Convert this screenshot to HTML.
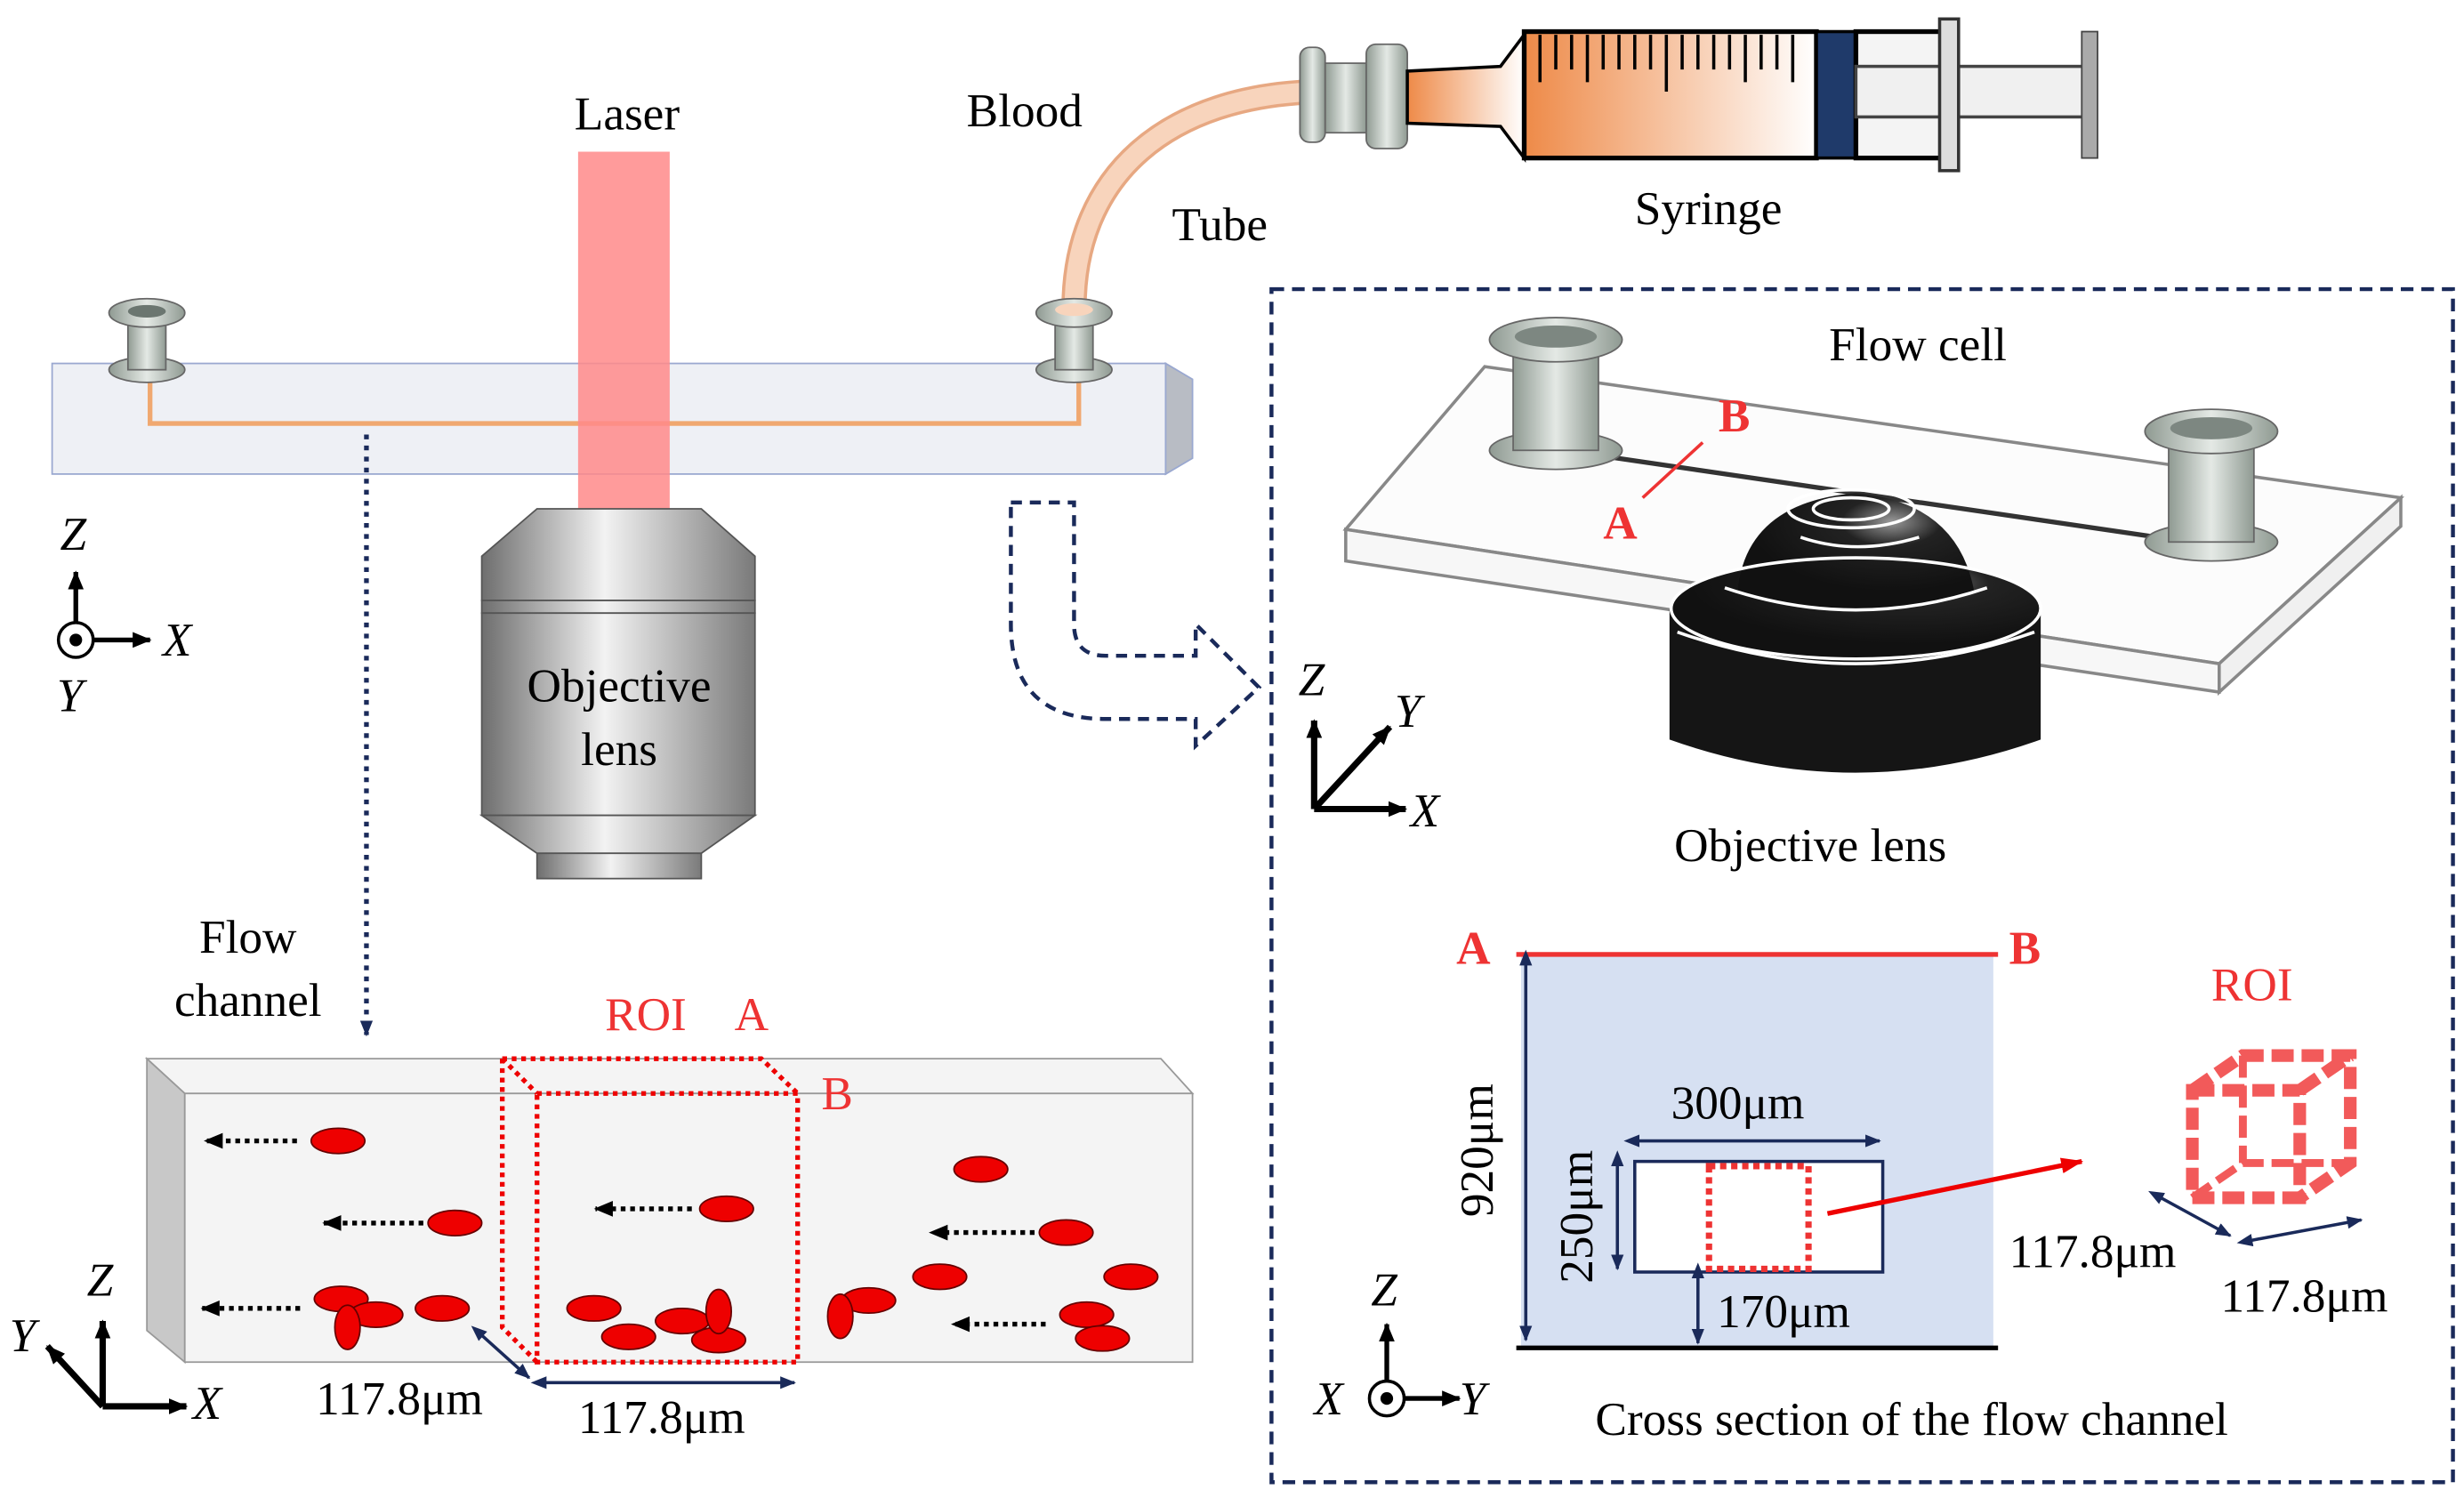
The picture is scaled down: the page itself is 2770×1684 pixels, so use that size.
<!DOCTYPE html>
<html><head><meta charset="utf-8"><style>html,body{margin:0;padding:0;background:#fff}svg{display:block}text{font-family:"Liberation Serif",serif}</style></head><body>
<svg width="2770" height="1684" viewBox="0 0 1560 948" preserveAspectRatio="none" xmlns="http://www.w3.org/2000/svg">
<defs>
<linearGradient id="g" x1="0" x2="1"><stop offset="0" stop-color="#6e6e6e"/><stop offset="0.45" stop-color="#f2f2f2"/><stop offset="1" stop-color="#7a7a7a"/></linearGradient>
<linearGradient id="or" x1="0" x2="1"><stop offset="0" stop-color="#ee8a48"/><stop offset="1" stop-color="#fff"/></linearGradient>
<linearGradient id="cy" x1="0" x2="1"><stop offset="0" stop-color="#8f9a92"/><stop offset="0.5" stop-color="#e4e9e5"/><stop offset="1" stop-color="#8f9a92"/></linearGradient>
<radialGradient id="bl" cx="0.65" cy="0.25" r="0.6"><stop offset="0" stop-color="#999"/><stop offset="0.35" stop-color="#222"/><stop offset="1" stop-color="#111"/></radialGradient>
<marker id="ah" markerUnits="userSpaceOnUse" markerWidth="12" markerHeight="10" refX="11" refY="5" orient="auto"><path d="M0,0 L12,5 L0,10 z" fill="#000"/></marker>
<marker id="an" markerUnits="userSpaceOnUse" markerWidth="10" markerHeight="8" refX="9" refY="4" orient="auto"><path d="M0,0 L10,4 L0,8 z" fill="#1a2a5a"/></marker>
<marker id="ar" markerUnits="userSpaceOnUse" markerWidth="14" markerHeight="10" refX="13" refY="5" orient="auto"><path d="M0,0 L14,5 L0,10 z" fill="#e00"/></marker>
<marker id="ab" markerUnits="userSpaceOnUse" markerWidth="10" markerHeight="8" refX="1" refY="4" orient="auto-start-reverse"><path d="M0,0 L10,4 L0,8 z" fill="#1a2a5a"/></marker>
</defs>
<g font-size="30">
<text x="397" y="82" text-anchor="middle">Laser</text>
<text x="612" y="80">Blood</text>
<text x="742" y="152">Tube</text>
<text x="1035" y="142">Syringe</text>
<!-- tube -->
<path d="M680,195 C680,110 740,60 835,58" stroke="#e7a882" stroke-width="16" fill="none"/>
<path d="M680,195 C680,110 740,60 835,58" stroke="#f8d4bc" stroke-width="12" fill="none"/>
<!-- syringe -->
<rect x="823" y="30" width="16" height="60" rx="6" fill="url(#cy)" stroke="#666"/>
<rect x="839" y="40" width="26" height="44" fill="url(#cy)" stroke="#666"/>
<rect x="865" y="28" width="26" height="66" rx="6" fill="url(#cy)" stroke="#666"/>
<path d="M891,45 L950,42 L965,22 L965,100 L950,80 L891,78 z" fill="url(#or)" stroke="#000" stroke-width="2"/>
<rect x="965" y="20" width="185" height="80" fill="url(#or)" stroke="#000" stroke-width="3"/>
<g stroke="#000" stroke-width="2">
<path d="M975,22v30M985,22v22M995,22v22M1005,22v30M1015,22v22M1025,22v22M1035,22v22M1045,22v22M1055,22v36M1065,22v22M1075,22v22M1085,22v22M1095,22v22M1105,22v30M1115,22v22M1125,22v22M1135,22v30"/>
</g>
<rect x="1150" y="20" width="25" height="80" fill="#1f3a6a" stroke="#000" stroke-width="2"/>
<rect x="1175" y="20" width="55" height="80" fill="#f4f4f4" stroke="#000" stroke-width="3"/>
<rect x="1175" y="42" width="145" height="32" fill="#f0f0f0" stroke="#444" stroke-width="2"/>
<rect x="1228" y="12" width="12" height="96" fill="#ddd" stroke="#333" stroke-width="2"/>
<rect x="1318" y="20" width="10" height="80" fill="#aaa" stroke="#444"/>
<!-- flow cell slab -->
<rect x="33" y="230" width="705" height="70" fill="#eef0f5" stroke="#9aa8d0"/>
<polygon points="738,230 755,240 755,290 738,300" fill="#b8bcc4" stroke="#9aa8d0"/>
<path d="M95,240 V268 H683 V240" stroke="#f0a870" stroke-width="3" fill="none"/>
<rect x="366" y="96" width="58" height="228" fill="#ff8a8a" opacity="0.85"/>
<g>
<ellipse cx="93" cy="234" rx="24" ry="8" fill="url(#cy)" stroke="#666"/>
<rect x="81" y="205" width="24" height="29" fill="url(#cy)" stroke="#666"/>
<ellipse cx="93" cy="198" rx="24" ry="9" fill="url(#cy)" stroke="#666"/>
<ellipse cx="93" cy="197" rx="12" ry="4" fill="#6b7670"/>
<ellipse cx="680" cy="234" rx="24" ry="8" fill="url(#cy)" stroke="#666"/>
<rect x="668" y="205" width="24" height="29" fill="url(#cy)" stroke="#666"/>
<ellipse cx="680" cy="198" rx="24" ry="9" fill="url(#cy)" stroke="#666"/>
<ellipse cx="680" cy="196" rx="12" ry="4" fill="#f8d4bc"/>
</g>
<!-- objective -->
<path d="M340,322 H444 L478,352 V380 H305 V352 z" fill="url(#g)" stroke="#555"/>
<rect x="305" y="380" width="173" height="8" fill="url(#g)" stroke="#555"/>
<rect x="305" y="388" width="173" height="128" fill="url(#g)" stroke="#555"/>
<path d="M305,516 H478 L444,540 H340 z" fill="url(#g)" stroke="#555"/>
<rect x="340" y="540" width="104" height="16" fill="url(#g)" stroke="#555"/>
<text x="392" y="444" text-anchor="middle">Objective</text>
<text x="392" y="484" text-anchor="middle">lens</text>
<!-- left axes -->
<text x="38" y="348" font-style="italic">Z</text>
<line x1="48" y1="405" x2="48" y2="362" stroke="#000" stroke-width="3" marker-end="url(#ah)"/>
<line x1="48" y1="405" x2="95" y2="405" stroke="#000" stroke-width="3" marker-end="url(#ah)"/>
<circle cx="48" cy="405" r="11" fill="#fff" stroke="#000" stroke-width="2"/><circle cx="48" cy="405" r="4"/>
<text x="103" y="415" font-style="italic">X</text>
<text x="36" y="450" font-style="italic">Y</text>
<!-- dotted arrow -->
<line x1="232" y1="275" x2="232" y2="655" stroke="#1a2a5a" stroke-width="3" stroke-dasharray="3,4" marker-end="url(#an)"/>
<text x="157" y="603" text-anchor="middle">Flow</text>
<text x="157" y="643" text-anchor="middle">channel</text>
<!-- dashed curved arrow -->
<path d="M640,318 H680 V395 Q680,415 700,415 H757 V395 L797,435 L757,472 V455 H700 Q640,455 640,395 z" fill="none" stroke="#1a2a5a" stroke-width="2.5" stroke-dasharray="7,5"/>
<!-- bottom channel -->
<polygon points="93,670 735,670 755,692 117,692" fill="#f4f4f4" stroke="#999"/>
<polygon points="93,670 117,692 117,862 93,842" fill="#c8c8c8" stroke="#999"/>
<rect x="117" y="692" width="638" height="170" fill="#f4f4f4" stroke="#999"/>
<g fill="none" stroke="#e00" stroke-width="3" stroke-dasharray="3,3">
<rect x="340" y="692" width="165" height="170"/>
<path d="M318,670 H482 L505,692 M318,670 L340,692 M318,670 V840 L340,862"/>
</g>
<text x="383" y="652" fill="#e33">ROI</text>
<text x="465" y="652" fill="#e33">A</text>
<text x="520" y="702" fill="#e33">B</text>
<g fill="#e00" stroke="#600" stroke-width="1">
<ellipse cx="214" cy="722" rx="17" ry="8"/><ellipse cx="288" cy="774" rx="17" ry="8"/><ellipse cx="460" cy="765" rx="17" ry="8"/>
<ellipse cx="621" cy="740" rx="17" ry="8"/><ellipse cx="675" cy="780" rx="17" ry="8"/><ellipse cx="716" cy="808" rx="17" ry="8"/>
<ellipse cx="595" cy="808" rx="17" ry="8"/><ellipse cx="688" cy="832" rx="17" ry="8"/><ellipse cx="698" cy="847" rx="17" ry="8"/>
<ellipse cx="216" cy="822" rx="17" ry="8"/><ellipse cx="238" cy="832" rx="17" ry="8"/><ellipse cx="220" cy="840" rx="8" ry="14"/>
<ellipse cx="280" cy="828" rx="17" ry="8"/><ellipse cx="376" cy="828" rx="17" ry="8"/><ellipse cx="398" cy="846" rx="17" ry="8"/>
<ellipse cx="432" cy="836" rx="17" ry="8"/><ellipse cx="455" cy="848" rx="17" ry="8"/><ellipse cx="455" cy="830" rx="8" ry="14"/>
<ellipse cx="550" cy="823" rx="17" ry="8"/><ellipse cx="532" cy="833" rx="8" ry="14"/>
</g>
<g stroke="#000" stroke-width="3" stroke-dasharray="3,3">
<line x1="188" y1="722" x2="130" y2="722" marker-end="url(#ah)"/>
<line x1="268" y1="774" x2="205" y2="774" marker-end="url(#ah)"/>
<line x1="438" y1="765" x2="377" y2="765" marker-end="url(#ah)"/>
<line x1="655" y1="780" x2="589" y2="780" marker-end="url(#ah)"/>
<line x1="190" y1="828" x2="128" y2="828" marker-end="url(#ah)"/>
<line x1="662" y1="838" x2="603" y2="838" marker-end="url(#ah)"/>
</g>
<line x1="305" y1="845" x2="335" y2="872" stroke="#1a2a5a" stroke-width="2" marker-start="url(#ab)" marker-end="url(#an)"/>
<line x1="345" y1="875" x2="503" y2="875" stroke="#1a2a5a" stroke-width="2" marker-start="url(#ab)" marker-end="url(#an)"/>
<text x="200" y="895">117.8μm</text>
<text x="366" y="907">117.8μm</text>
<!-- bottom-left axes -->
<line x1="65" y1="890" x2="65" y2="836" stroke="#000" stroke-width="4" marker-end="url(#ah)"/>
<line x1="65" y1="890" x2="118" y2="890" stroke="#000" stroke-width="4" marker-end="url(#ah)"/>
<line x1="65" y1="890" x2="30" y2="852" stroke="#000" stroke-width="4" marker-end="url(#ah)"/>
<text x="55" y="820" font-style="italic">Z</text><text x="122" y="898" font-style="italic">X</text><text x="6" y="855" font-style="italic">Y</text>
<!-- right dashed box -->
<rect x="805" y="183" width="748" height="755" fill="none" stroke="#1a2a5a" stroke-width="2.5" stroke-dasharray="8,5"/>
<text x="1158" y="228">Flow cell</text>
<polygon points="852,335 940,232 1520,315 1405,420" fill="#fafafa" fill-opacity="0.6" stroke="#888" stroke-width="2"/>
<polygon points="852,335 1405,420 1405,438 852,355" fill="#f2f2f2" fill-opacity="0.6" stroke="#888" stroke-width="2"/>
<polygon points="1405,420 1520,315 1520,333 1405,438" fill="#e6e6e6" fill-opacity="0.6" stroke="#888" stroke-width="2"/>
<line x1="990" y1="285" x2="1400" y2="345" stroke="#333" stroke-width="3"/>
<!-- black objective -->
<path d="M1057,385 V468 Q1175,510 1292,468 V385 z" fill="#151515"/>
<ellipse cx="1175" cy="385" rx="117" ry="32" fill="url(#bl)"/>
<path d="M1100,375 Q1105,318 1175,312 Q1240,318 1250,375 Q1175,395 1100,375 z" fill="url(#bl)"/>
<g fill="none" stroke="#fff" stroke-width="2">
<ellipse cx="1175" cy="385" rx="117" ry="32"/>
<path d="M1062,400 Q1175,440 1288,400"/>
<path d="M1092,372 Q1175,400 1258,372"/>
<ellipse cx="1172" cy="322" rx="40" ry="12"/><ellipse cx="1172" cy="322" rx="24" ry="7"/>
<path d="M1140,340 Q1175,352 1215,340"/>
</g>
<g>
<ellipse cx="985" cy="285" rx="42" ry="12" fill="url(#cy)" stroke="#666"/>
<rect x="958" y="225" width="54" height="60" fill="url(#cy)" stroke="#666"/>
<ellipse cx="985" cy="215" rx="42" ry="14" fill="url(#cy)" stroke="#666"/>
<ellipse cx="985" cy="213" rx="26" ry="7" fill="#7d8781"/>
<ellipse cx="1400" cy="343" rx="42" ry="12" fill="url(#cy)" stroke="#666"/>
<rect x="1373" y="283" width="54" height="60" fill="url(#cy)" stroke="#666"/>
<ellipse cx="1400" cy="273" rx="42" ry="14" fill="url(#cy)" stroke="#666"/>
<ellipse cx="1400" cy="271" rx="26" ry="7" fill="#7d8781"/>
</g>
<line x1="1040" y1="315" x2="1078" y2="280" stroke="#e33" stroke-width="2"/>
<text x="1088" y="273" fill="#e33" font-weight="bold">B</text>
<text x="1015" y="341" fill="#e33" font-weight="bold">A</text>
<text x="1060" y="545">Objective lens</text>
<!-- right axes -->
<line x1="832" y1="512" x2="832" y2="456" stroke="#000" stroke-width="4" marker-end="url(#ah)"/>
<line x1="832" y1="512" x2="890" y2="512" stroke="#000" stroke-width="4" marker-end="url(#ah)"/>
<line x1="832" y1="512" x2="880" y2="460" stroke="#000" stroke-width="4" marker-end="url(#ah)"/>
<text x="822" y="440" font-style="italic">Z</text><text x="883" y="460" font-style="italic">Y</text><text x="893" y="523" font-style="italic">X</text>
<!-- cross section -->
<rect x="963" y="604" width="299" height="249" fill="#d6e0f2"/>
<line x1="960" y1="604" x2="1265" y2="604" stroke="#e33" stroke-width="3"/>
<line x1="960" y1="853" x2="1265" y2="853" stroke="#000" stroke-width="3"/>
<text x="922" y="610" fill="#e33" font-weight="bold">A</text>
<text x="1272" y="610" fill="#e33" font-weight="bold">B</text>
<line x1="966" y1="610" x2="966" y2="848" stroke="#1a2a5a" stroke-width="2" marker-start="url(#ab)" marker-end="url(#an)"/>
<text transform="translate(945,728) rotate(-90)" text-anchor="middle">920μm</text>
<rect x="1035" y="735" width="157" height="70" fill="#fff" stroke="#1a2a5a" stroke-width="2"/>
<rect x="1082" y="738" width="63" height="65" fill="none" stroke="#e33" stroke-width="4" stroke-dasharray="4,3"/>
<line x1="1037" y1="722" x2="1190" y2="722" stroke="#1a2a5a" stroke-width="2" marker-start="url(#ab)" marker-end="url(#an)"/>
<text x="1058" y="708">300μm</text>
<line x1="1024" y1="737" x2="1024" y2="803" stroke="#1a2a5a" stroke-width="2" marker-start="url(#ab)" marker-end="url(#an)"/>
<text transform="translate(1008,770) rotate(-90)" text-anchor="middle">250μm</text>
<line x1="1075" y1="808" x2="1075" y2="850" stroke="#1a2a5a" stroke-width="2" marker-start="url(#ab)" marker-end="url(#an)"/>
<text x="1087" y="840">170μm</text>
<line x1="1157" y1="768" x2="1318" y2="735" stroke="#e00" stroke-width="3" marker-end="url(#ar)"/>
<!-- ROI cube -->
<text x="1400" y="633" fill="#e33">ROI</text>
<g fill="none" stroke="#f25a5a" stroke-width="8" stroke-dasharray="14,5">
<rect x="1388" y="690" width="68" height="68"/>
<path d="M1388,690 L1420,668 H1488 V736 L1456,758 M1456,690 L1488,668"/>
<path d="M1388,758 L1420,736 H1488 M1420,668 V736" stroke-width="5"/>
</g>
<line x1="1368" y1="758" x2="1412" y2="782" stroke="#1a2a5a" stroke-width="2" marker-start="url(#ab)" marker-end="url(#an)"/>
<line x1="1425" y1="785" x2="1495" y2="772" stroke="#1a2a5a" stroke-width="2" marker-start="url(#ab)" marker-end="url(#an)"/>
<text x="1272" y="802">117.8μm</text>
<text x="1406" y="830">117.8μm</text>
<!-- bottom right axes -->
<line x1="878" y1="885" x2="878" y2="838" stroke="#000" stroke-width="3" marker-end="url(#ah)"/>
<line x1="878" y1="885" x2="924" y2="885" stroke="#000" stroke-width="3" marker-end="url(#ah)"/>
<circle cx="878" cy="885" r="11" fill="#fff" stroke="#000" stroke-width="2"/><circle cx="878" cy="885" r="4"/>
<text x="868" y="826" font-style="italic">Z</text><text x="832" y="895" font-style="italic">X</text><text x="924" y="895" font-style="italic">Y</text>
<text x="1010" y="908">Cross section of the flow channel</text>
</g>
</svg>
</body></html>
